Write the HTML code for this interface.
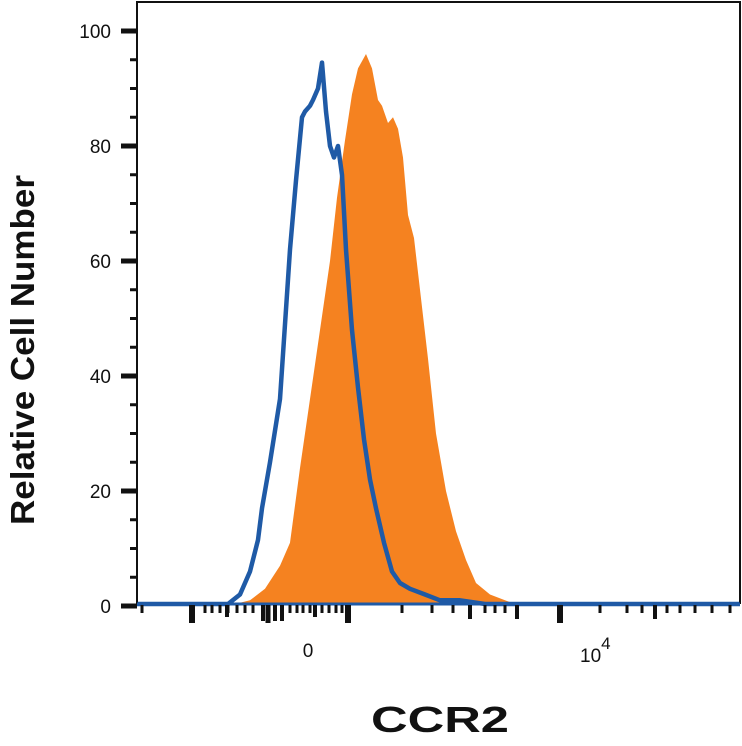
<!DOCTYPE html>
<html><head><meta charset="utf-8"><style>
body{margin:0;background:#fff;}
svg{display:block;font-family:"Liberation Sans",Arial,sans-serif;}
</style></head><body>
<svg id="chart" width="742" height="746" viewBox="0 0 742 746">
<g id="plot"></g>
<g id="axes"></g>
<text transform="translate(34,350) rotate(-90)" text-anchor="middle" font-size="33" font-weight="bold" fill="#111" textLength="350" lengthAdjust="spacingAndGlyphs">Relative Cell Number</text>
<text x="440" y="732" text-anchor="middle" font-size="36" font-weight="bold" fill="#111" textLength="138" lengthAdjust="spacingAndGlyphs">CCR2</text>
<text x="308" y="657" text-anchor="middle" font-size="19" fill="#111">0</text>
<text x="580" y="662" font-size="19" fill="#111">10<tspan dy="-13" font-size="17">4</tspan></text>
</svg>
<script>
// channel positions (0..603 across the plot)
const blueX = [0,91,103,113,121,125,133,143,153,159,165,168,173,176,181,185,189,193,197,201,205,209,215,221,227,233,239,247,255,263,273,288,303,323,348,603];
const blueY = [0,0,2,6,11.5,17,25,36,62,74,85,86,87,88,90,94.5,86,80,78,80,75,62,48,38,29,22,17,11,6,4,3,2,1,1,0,0];
const orangeX = [0,98,113,128,143,153,163,173,183,193,200,208,215,221,229,235,241,245,251,256,261,266,271,277,283,291,299,309,319,329,339,353,368,378,603];
const orangeY = [0,0,1,3,7,11,24,36,48,60,71,81,89,93.5,96,93.5,88,87,84,85,83,78,68,64,55,43,30,20,13,8,4,2,1,0,0];
const yTicks = [0,20,40,60,80,100];
const yTickLabels = ["0","20","40","60","80","100"];
const NS="http://www.w3.org/2000/svg";
const L=137,R=740,T=2,B=604;
const xs=v=>L+v;
const ys=v=>606-v*5.75;
const plot=document.getElementById('plot'), axes=document.getElementById('axes');
function mk(tag,attrs,parent){const e=document.createElementNS(NS,tag);for(const k in attrs)e.setAttribute(k,attrs[k]);parent.appendChild(e);return e;}
function pts(X,Y){return X.map((x,i)=>xs(x).toFixed(1)+','+Math.min(ys(Y[i]),B).toFixed(1)).join(' ');}
const fill=mk('polygon',{points:pts(orangeX,orangeY)+` ${xs(603)},${B} ${xs(0)},${B}`,fill:'#f58220'},plot);


const line=mk('polyline',{points:pts(blueX,blueY),fill:'none',stroke:'#1f5aa6','stroke-width':4.5,'stroke-linejoin':'round'},plot);


const fr=mk('path',{d:`M${L},${B} L${L},${T} L${R},${T} L${R},${B}`,fill:'none',stroke:'#111','stroke-width':2},axes);


const xa=mk('line',{x1:L,y1:B,x2:R,y2:B,stroke:'#1f5aa6','stroke-width':3},axes);


for(let v=0;v<=100;v+=5){
  const major=v%20===0;
  const t=mk('rect',{x:major?121:130,y:ys(v)-(major?2.5:1.5),width:major?16:7,height:major?5:3,fill:'#111'},axes);
  
  
}
yTicks.forEach((v,i)=>{
  const t=mk('text',{x:111,y:ys(v)+7,'text-anchor':'end','font-size':19,fill:'#111'},axes);
  t.textContent=yTickLabels[i];
  
  
});
const xt=[[142,3,8],[192,6,18],[205,3,8],[212,3,8],[220,3,8],[228,3,8],[227,4,12],[237,3,8],[245,3,8],[253,3,8],[263,4,16],[268,5,18],[275,4,16],[282,4,16],[290,3,8],[297,3,8],[303,3,8],[310,3,8],[315,4,12],[322,3,8],[329,3,8],[336,3,8],[342,3,8],[348,6,18],[402,3,8],[432,3,8],[453,3,8],[470,4,14],[485,3,8],[495,3,8],[505,3,8],[517,4,14],[560,6,18],[600,3,8],[627,3,8],[642,3,8],[655,4,14],[667,3,8],[680,3,8],[695,3,8],[712,3,8],[730,3,8]];
xt.forEach(([x,w,h])=>{
  const t=mk('rect',{x:x-w/2,y:B+1,width:w,height:h,fill:'#111'},axes);
  
  
});
</script>
</body></html>
